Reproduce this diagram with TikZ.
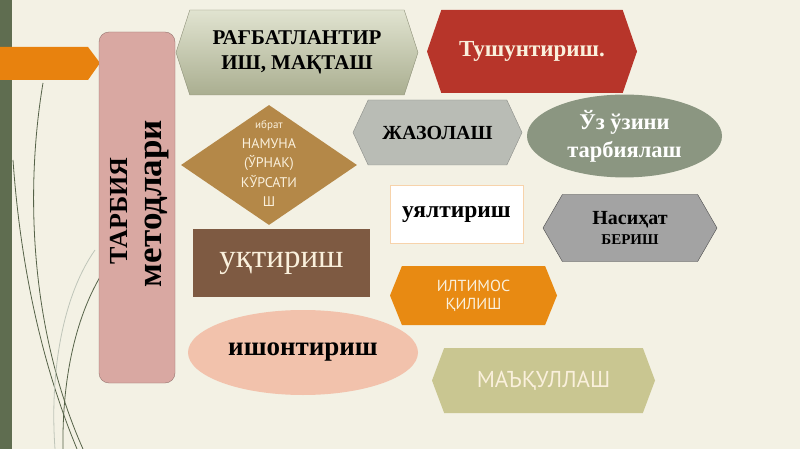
\documentclass[tikz,border=0pt]{standalone}
\usepackage{fontspec}
\setmainfont{Liberation Serif}
\newfontfamily\narrowsans{PT Sans}
\usetikzlibrary{shapes.geometric,shapes.symbols}
\definecolor{bgcream}{HTML}{F3F1E4}
\definecolor{bargreen}{HTML}{5F6D50}
\definecolor{barorange}{HTML}{E8820E}
\definecolor{boxpink}{HTML}{D9A8A2}
\definecolor{hexolive}{HTML}{C8CDAA}
\definecolor{hexred}{HTML}{B7352A}
\definecolor{diabrown}{HTML}{B48848}
\definecolor{hexgrey}{HTML}{B9BCB5}
\definecolor{ellgreen}{HTML}{8B9681}
\definecolor{hexdark}{HTML}{A3A3A3}
\definecolor{rectbrown}{HTML}{7E5A42}
\definecolor{hexorange}{HTML}{E88A12}
\definecolor{ellpink}{HTML}{F2C2AC}
\definecolor{hexkhaki}{HTML}{C9C691}
\definecolor{lighttxt}{HTML}{FAF0DC}
\begin{document}
\begin{tikzpicture}[x=1pt,y=-1pt,
    hexa/.style={signal, signal to=west and east, inner sep=0pt, align=center},
    bold/.style={font=\bfseries, align=center}]
  \useasboundingbox (0,0) rectangle (800,449);
  \fill[bgcream] (0,0) rectangle (800,449);
  % left decoration
  \fill[bargreen] (0,0) rectangle (12,449);
  \begin{scope}[bargreen!90!black, line width=0.8pt]
    \draw (43,83) .. controls (25,190) and (30,330) .. (83,449);
    \draw (13,160) .. controls (20,260) and (40,360) .. (77,449);
    \draw (100,277) .. controls (75,320) and (62,380) .. (63,449);
    \draw[bargreen!40] (95,250) .. controls (60,300) and (50,380) .. (55,449);
  \end{scope}
  \fill[barorange] (0,47) -- (88,47) -- (100,63) -- (88,80) -- (0,80) -- cycle;
  % title box
  \node[draw=boxpink!70!black, fill=boxpink, rounded corners=10pt,
        minimum width=76, minimum height=351] (title) at (137,207.5) {};
  \node[bold, rotate=90, font=\bfseries\fontsize{26}{28}\selectfont] (tarbiya) at (119,211) {ТАРБИЯ};
  \node[bold, rotate=90, font=\bfseries\fontsize{35}{38}\selectfont] (metod) at (157,203.5) {методлари};
  % methods
  \node[hexa, draw=hexolive!70!black, top color=hexolive!55!white, bottom color=hexolive!85!black,
        signal pointer angle=144, minimum width=242, minimum height=85,
        font=\bfseries\fontsize{21}{25}\selectfont] (ragbat) at (297,52.5) {РАҒБАТЛАНТИР\\ИШ, МАҚТАШ};
  \node[hexa, fill=hexred, text=lighttxt, signal pointer angle=142,
        minimum width=210, minimum height=83,
        font=\bfseries\fontsize{23}{26}\selectfont] (tushun) at (532,51.5) {Тушунтириш.};
  \node[diamond, fill=diabrown, minimum width=176, minimum height=120, inner sep=0pt] (namuna) at (269,165) {};
  \node[align=center, text=lighttxt, font=\narrowsans\fontsize{14}{19.5}\selectfont] (namunatxt) at (269,164)
    {{\fontsize{11}{19.5}\selectfont ибрат}\\НАМУНА\\(ЎРНАК)\\КЎРСАТИ\\Ш};
  \node[hexa, draw=hexgrey!75!black, fill=hexgrey, signal pointer angle=130,
        minimum width=169, minimum height=65,
        font=\bfseries\fontsize{20}{22}\selectfont] (jazo) at (437.5,132.5) {ЖАЗОЛАШ};
  \node[ellipse, fill=ellgreen, text=white, minimum width=195, minimum height=80,
        align=center, font=\bfseries\fontsize{22.5}{28}\selectfont] (uzuzini) at (624.5,136) {Ўз ўзини\\тарбиялаш};
  \node[rectangle, draw=barorange!35, fill=white, line width=1pt, minimum width=133, minimum height=57,
        font=\bfseries\fontsize{23.5}{25}\selectfont] (uyal) at (456.5,214.5) {уялтириш};
  \node[hexa, draw=black!70, fill=hexdark, signal pointer angle=120,
        minimum width=174, minimum height=67, font=\bfseries\fontsize{20}{20}\selectfont] (nasihat) at (630,228)
    {Насиҳат\\{\fontsize{15}{17}\selectfont БЕРИШ}};
  \node[rectangle, fill=rectbrown, text=lighttxt, minimum width=177, minimum height=68,
        font=\fontsize{33}{35}\selectfont] (uqtir) at (281.5,263) {уқтириш};
  \node[hexa, fill=hexorange, text=lighttxt, signal pointer angle=136,
        minimum width=167, minimum height=59,
        font=\narrowsans\fontsize{16}{18}\selectfont] (iltimos) at (473.5,295.5) {ИЛТИМОС\\ҚИЛИШ};
  \node[ellipse, fill=ellpink, minimum width=230, minimum height=85,
        font=\bfseries\fontsize{27}{29}\selectfont] (ishon) at (303,352.5) {ишонтириш};
  \node[hexa, fill=hexkhaki, text=lighttxt, signal pointer angle=139,
        minimum width=223, minimum height=65,
        font=\narrowsans\fontsize{23}{25}\selectfont] (maqul) at (543.5,380.5) {МАЪҚУЛЛАШ};
\end{tikzpicture}
\end{document}
